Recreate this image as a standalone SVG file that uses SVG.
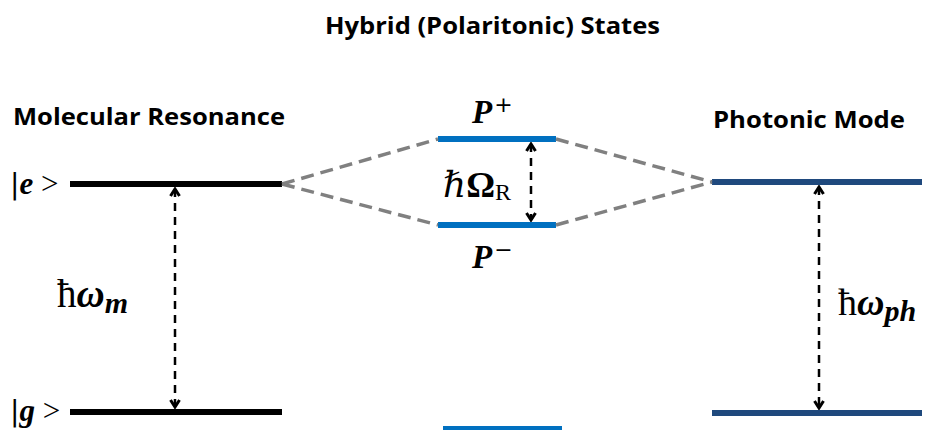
<svg xmlns="http://www.w3.org/2000/svg" width="933" height="430" viewBox="0 0 933 430">
<style>
.h{font-family:"Open Sans","Liberation Sans",sans-serif;font-weight:bold;font-size:24px;fill:#000}
.m{font-family:"Liberation Serif","DejaVu Serif",serif;fill:#000}
.sup{font-family:"DejaVu Sans",sans-serif;font-style:normal;font-weight:normal;font-size:22px}
.blk{stroke:#000;stroke-width:6}
.blu{stroke:#0070C0;stroke-width:6}
.nav{stroke:#1F497D;stroke-width:6}
.gd{stroke:#808080;stroke-width:3.5;stroke-dasharray:13 7;fill:none}
.ar{stroke:#000;stroke-width:2.5;stroke-dasharray:8 6;fill:none;marker-start:url(#a);marker-end:url(#a)}
</style>
<defs>
<marker id="a" viewBox="0 0 12 12" refX="10" refY="6" markerWidth="12" markerHeight="12" orient="auto-start-reverse" markerUnits="userSpaceOnUse">
<path d="M3,1.5 L10,6 L3,10.5" fill="none" stroke="#000" stroke-width="3"/>
</marker>
</defs>
<text class="h" x="325" y="34" textLength="335" lengthAdjust="spacingAndGlyphs">Hybrid (Polaritonic) States</text>
<g id="molecular">
<text class="h" x="13" y="125" textLength="272" lengthAdjust="spacingAndGlyphs">Molecular Resonance</text>
</g>
<g id="photonic">
<text class="h" x="713" y="128" textLength="192" lengthAdjust="spacingAndGlyphs">Photonic Mode</text>
</g>
<g id="e">
<line class="blk" x1="70" y1="184" x2="282" y2="184"/>
<text class="m" x="10" y="194" font-size="31"><tspan font-family="DejaVu Sans" font-size="28">|</tspan><tspan font-style="italic" font-weight="bold">e</tspan> &gt;</text>
</g>
<g id="g">
<line class="blk" x1="70" y1="412" x2="282" y2="412"/>
<text class="m" x="10" y="421" font-size="31"><tspan font-family="DejaVu Sans" font-size="28">|</tspan><tspan font-style="italic" font-weight="bold">g</tspan> &gt;</text>
</g>
<g id="Pplus">
<line class="blu" x1="438" y1="139" x2="556" y2="139"/>
<text class="m" x="472" y="123" font-size="33" font-weight="bold" font-style="italic">P<tspan class="sup" dx="2" dy="-11">+</tspan></text>
</g>
<g id="Pminus">
<line class="blu" x1="438" y1="225" x2="556" y2="225"/>
<text class="m" x="472" y="268" font-size="33" font-weight="bold" font-style="italic">P<tspan class="sup" dx="2" dy="-11">−</tspan></text>
</g>
<g id="bottom">
<line class="blu" x1="443" y1="429" x2="562" y2="429"/>
</g>
<g id="ph1">
<line class="nav" x1="712" y1="182" x2="922" y2="182"/>
</g>
<g id="ph0">
<line class="nav" x1="712" y1="413" x2="922" y2="413"/>
</g>
<g id="connectors">
<path class="gd" d="M282,184 L438,139 M282,184 L438,225 M556,139 L712,182 M556,225 L712,182"/>
<line class="ar" x1="175" y1="189" x2="175" y2="407"/>
<line class="ar" x1="531" y1="144" x2="531" y2="220"/>
<line class="ar" x1="819" y1="187" x2="819" y2="408"/>
</g>
<g id="labels">
<text class="m" x="57" y="307" font-size="39">ħ<tspan font-style="italic" font-weight="bold">ω</tspan><tspan font-style="italic" font-weight="bold" font-size="30" dy="6">m</tspan></text>
<text class="m" x="443" y="197" font-size="36"><tspan font-style="italic">ℏ</tspan><tspan font-weight="bold">Ω</tspan><tspan font-size="24" dy="3">R</tspan></text>
<text class="m" x="838" y="315" font-size="38">ħ<tspan font-style="italic" font-weight="bold">ω</tspan><tspan font-style="italic" font-weight="bold" font-size="30" dy="6">ph</tspan></text>
</g>
</svg>
